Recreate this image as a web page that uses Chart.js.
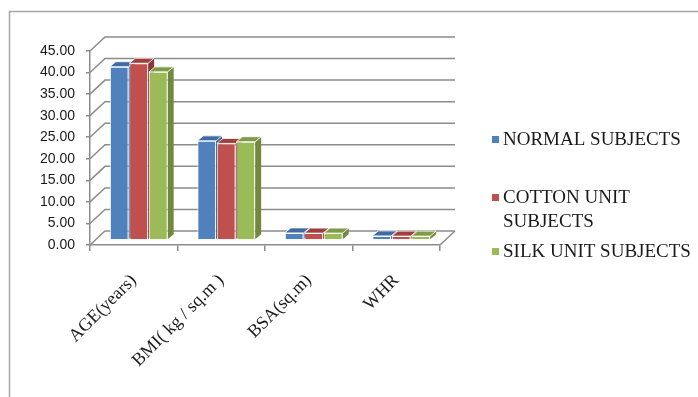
<!DOCTYPE html>
<html>
<head>
<meta charset="utf-8">
<script src="https://cdn.jsdelivr.net/npm/chart.js@4.4.1/dist/chart.umd.min.js"></script>
<style>
  html, body { margin: 0; padding: 0; background: #fff; }
  #wrap { position: relative; width: 698px; height: 397px; }
</style>
</head>
<body>
<div id="wrap"><canvas id="barChart"></canvas></div>
<script>
const categories = ['AGE(years)', 'BMI( kg / sq.m )', 'BSA(sq.m)', 'WHR'];
const normalSubjects = [40.2, 23.0, 1.65, 0.95];
const cottonSubjects = [41.0, 22.4, 1.6, 0.9];
const silkSubjects = [39.0, 22.8, 1.6, 0.9];
const seriesNames = ['NORMAL SUBJECTS', 'COTTON UNIT SUBJECTS', 'SILK UNIT SUBJECTS'];

const frontColors = ['#4f81bd', '#c0504d', '#9bbb59'];
const sideColors = ['#385d8a', '#8c3836', '#71893f'];
const topColors = ['#3f6ca3', '#a0403d', '#7f9b47'];

const GRID = '#8c8c8c';
const WALL_DX = 15, WALL_DY = -14;   // back wall offset
const BAR_DX = 5, BAR_DY = -5;       // bar front plane offset
const DEPTH_X = 6, DEPTH_Y = -5;     // bar depth

// frame, back wall and floor
const wallPlugin = {
  id: 'wall',
  beforeDraw(chart) {
    const ctx = chart.ctx;
    ctx.save();
    ctx.strokeStyle = '#a6a6a6';
    ctx.lineWidth = 1.5;
    ctx.strokeRect(9.5, 11.5, 900, 600);
    ctx.restore();
  },
  beforeDatasetsDraw(chart) {
    const ctx = chart.ctx;
    const y = chart.scales.y;
    const area = chart.chartArea;
    ctx.save();
    ctx.strokeStyle = GRID;
    ctx.lineWidth = 1.5;
    y.ticks.forEach(t => {
      const py = y.getPixelForValue(t.value);
      ctx.beginPath();
      ctx.moveTo(area.left, py);
      ctx.lineTo(area.left + WALL_DX, py + WALL_DY);
      ctx.lineTo(area.right + WALL_DX, py + WALL_DY);
      ctx.stroke();
    });
    // floor right edge
    const p0 = y.getPixelForValue(0);
    ctx.beginPath();
    ctx.moveTo(area.right, p0);
    ctx.lineTo(area.right + WALL_DX, p0 + WALL_DY);
    ctx.stroke();
    ctx.restore();

    // 3D faces of bars, then library draws the front faces
    ctx.save();
    ctx.translate(BAR_DX, BAR_DY);
    chart.data.datasets.forEach((ds, di) => {
      const meta = chart.getDatasetMeta(di);
      meta.data.forEach(bar => {
        const p = bar.getProps(['x', 'y', 'base', 'width'], true);
        const l = p.x - p.width / 2, r = p.x + p.width / 2;
        ctx.fillStyle = sideColors[di];
        ctx.beginPath();
        ctx.moveTo(r, p.y);
        ctx.lineTo(r + DEPTH_X, p.y + DEPTH_Y);
        ctx.lineTo(r + DEPTH_X, p.base + DEPTH_Y);
        ctx.lineTo(r, p.base);
        ctx.closePath();
        ctx.fill();
        ctx.fillStyle = topColors[di];
        ctx.beginPath();
        ctx.moveTo(l, p.y);
        ctx.lineTo(r, p.y);
        ctx.lineTo(r + DEPTH_X, p.y + DEPTH_Y);
        ctx.lineTo(l + DEPTH_X, p.y + DEPTH_Y);
        ctx.closePath();
        ctx.fill();
        ctx.strokeStyle = 'rgba(255,255,255,0.8)';
        ctx.lineWidth = 1;
        ctx.stroke();
      });
    });
  },
  afterDatasetsDraw(chart) {
    chart.ctx.restore();
  }
};

// legend on the right
const legendPlugin = {
  id: 'sideLegend',
  afterDraw(chart) {
    const ctx = chart.ctx;
    const baselines = [145, 203, 257];
    const textX = 503;
    ctx.save();
    ctx.font = '19px "Liberation Serif", "Times New Roman", serif';
    ctx.textBaseline = 'alphabetic';
    ctx.textAlign = 'left';
    chart.data.datasets.forEach((ds, i) => {
      const words = ds.label.split(' ');
      const lines = [];
      let cur = '';
      words.forEach(w => {
        const test = cur ? cur + ' ' + w : w;
        if (ctx.measureText(test).width > 194 && cur) {
          lines.push(cur);
          cur = w;
        } else {
          cur = test;
        }
      });
      lines.push(cur);
      const by = baselines[i];
      ctx.fillStyle = frontColors[i];
      ctx.fillRect(textX - 11, by - 9, 7, 7);
      ctx.fillStyle = '#1a1a1a';
      lines.forEach((ln, k) => ctx.fillText(ln, textX, by + k * 24));
    });
    ctx.restore();
  }
};

const ctx = document.getElementById('barChart').getContext('2d');
const barChart = new Chart(ctx, {
  type: 'bar',
  data: {
    labels: categories,
    datasets: [
      { label: seriesNames[0], data: normalSubjects, backgroundColor: frontColors[0] },
      { label: seriesNames[1], data: cottonSubjects, backgroundColor: frontColors[1] },
      { label: seriesNames[2], data: silkSubjects, backgroundColor: frontColors[2] }
    ]
  },
  options: {
    responsive: true,
    maintainAspectRatio: false,
    animation: false,
    layout: { padding: { left: 0, right: 258, top: 51, bottom: 0 } },
    datasets: {
      bar: {
        barPercentage: 0.96,
        categoryPercentage: 0.67,
        borderColor: 'rgba(255,255,255,0.9)',
        borderWidth: 1
      }
    },
    plugins: {
      legend: { display: false },
      tooltip: { enabled: false }
    },
    scales: {
      x: {
        afterFit(scale) { scale.height = 152; },
        grid: { offset: true, drawOnChartArea: false, drawTicks: true, tickLength: 6, color: GRID, lineWidth: 1.5 },
        border: { display: true, color: GRID, width: 1.5 },
        ticks: {
          maxRotation: 45,
          minRotation: 45,
          padding: 19,
          color: '#1a1a1a',
          font: { family: '"Liberation Serif", "Times New Roman", serif', size: 18 }
        }
      },
      y: {
        min: 0,
        max: 45,
        afterFit(scale) { scale.width = 90; },
        grid: { drawOnChartArea: false, drawTicks: true, tickLength: 4, color: GRID, lineWidth: 1.5 },
        border: { display: true, color: GRID, width: 1.5 },
        ticks: {
          stepSize: 5,
          padding: 11,
          color: '#1a1a1a',
          font: { family: '"Liberation Sans", Arial, sans-serif', size: 14 },
          callback: v => v.toFixed(2)
        }
      }
    }
  },
  plugins: [wallPlugin, legendPlugin]
});
</script>
</body>
</html>
